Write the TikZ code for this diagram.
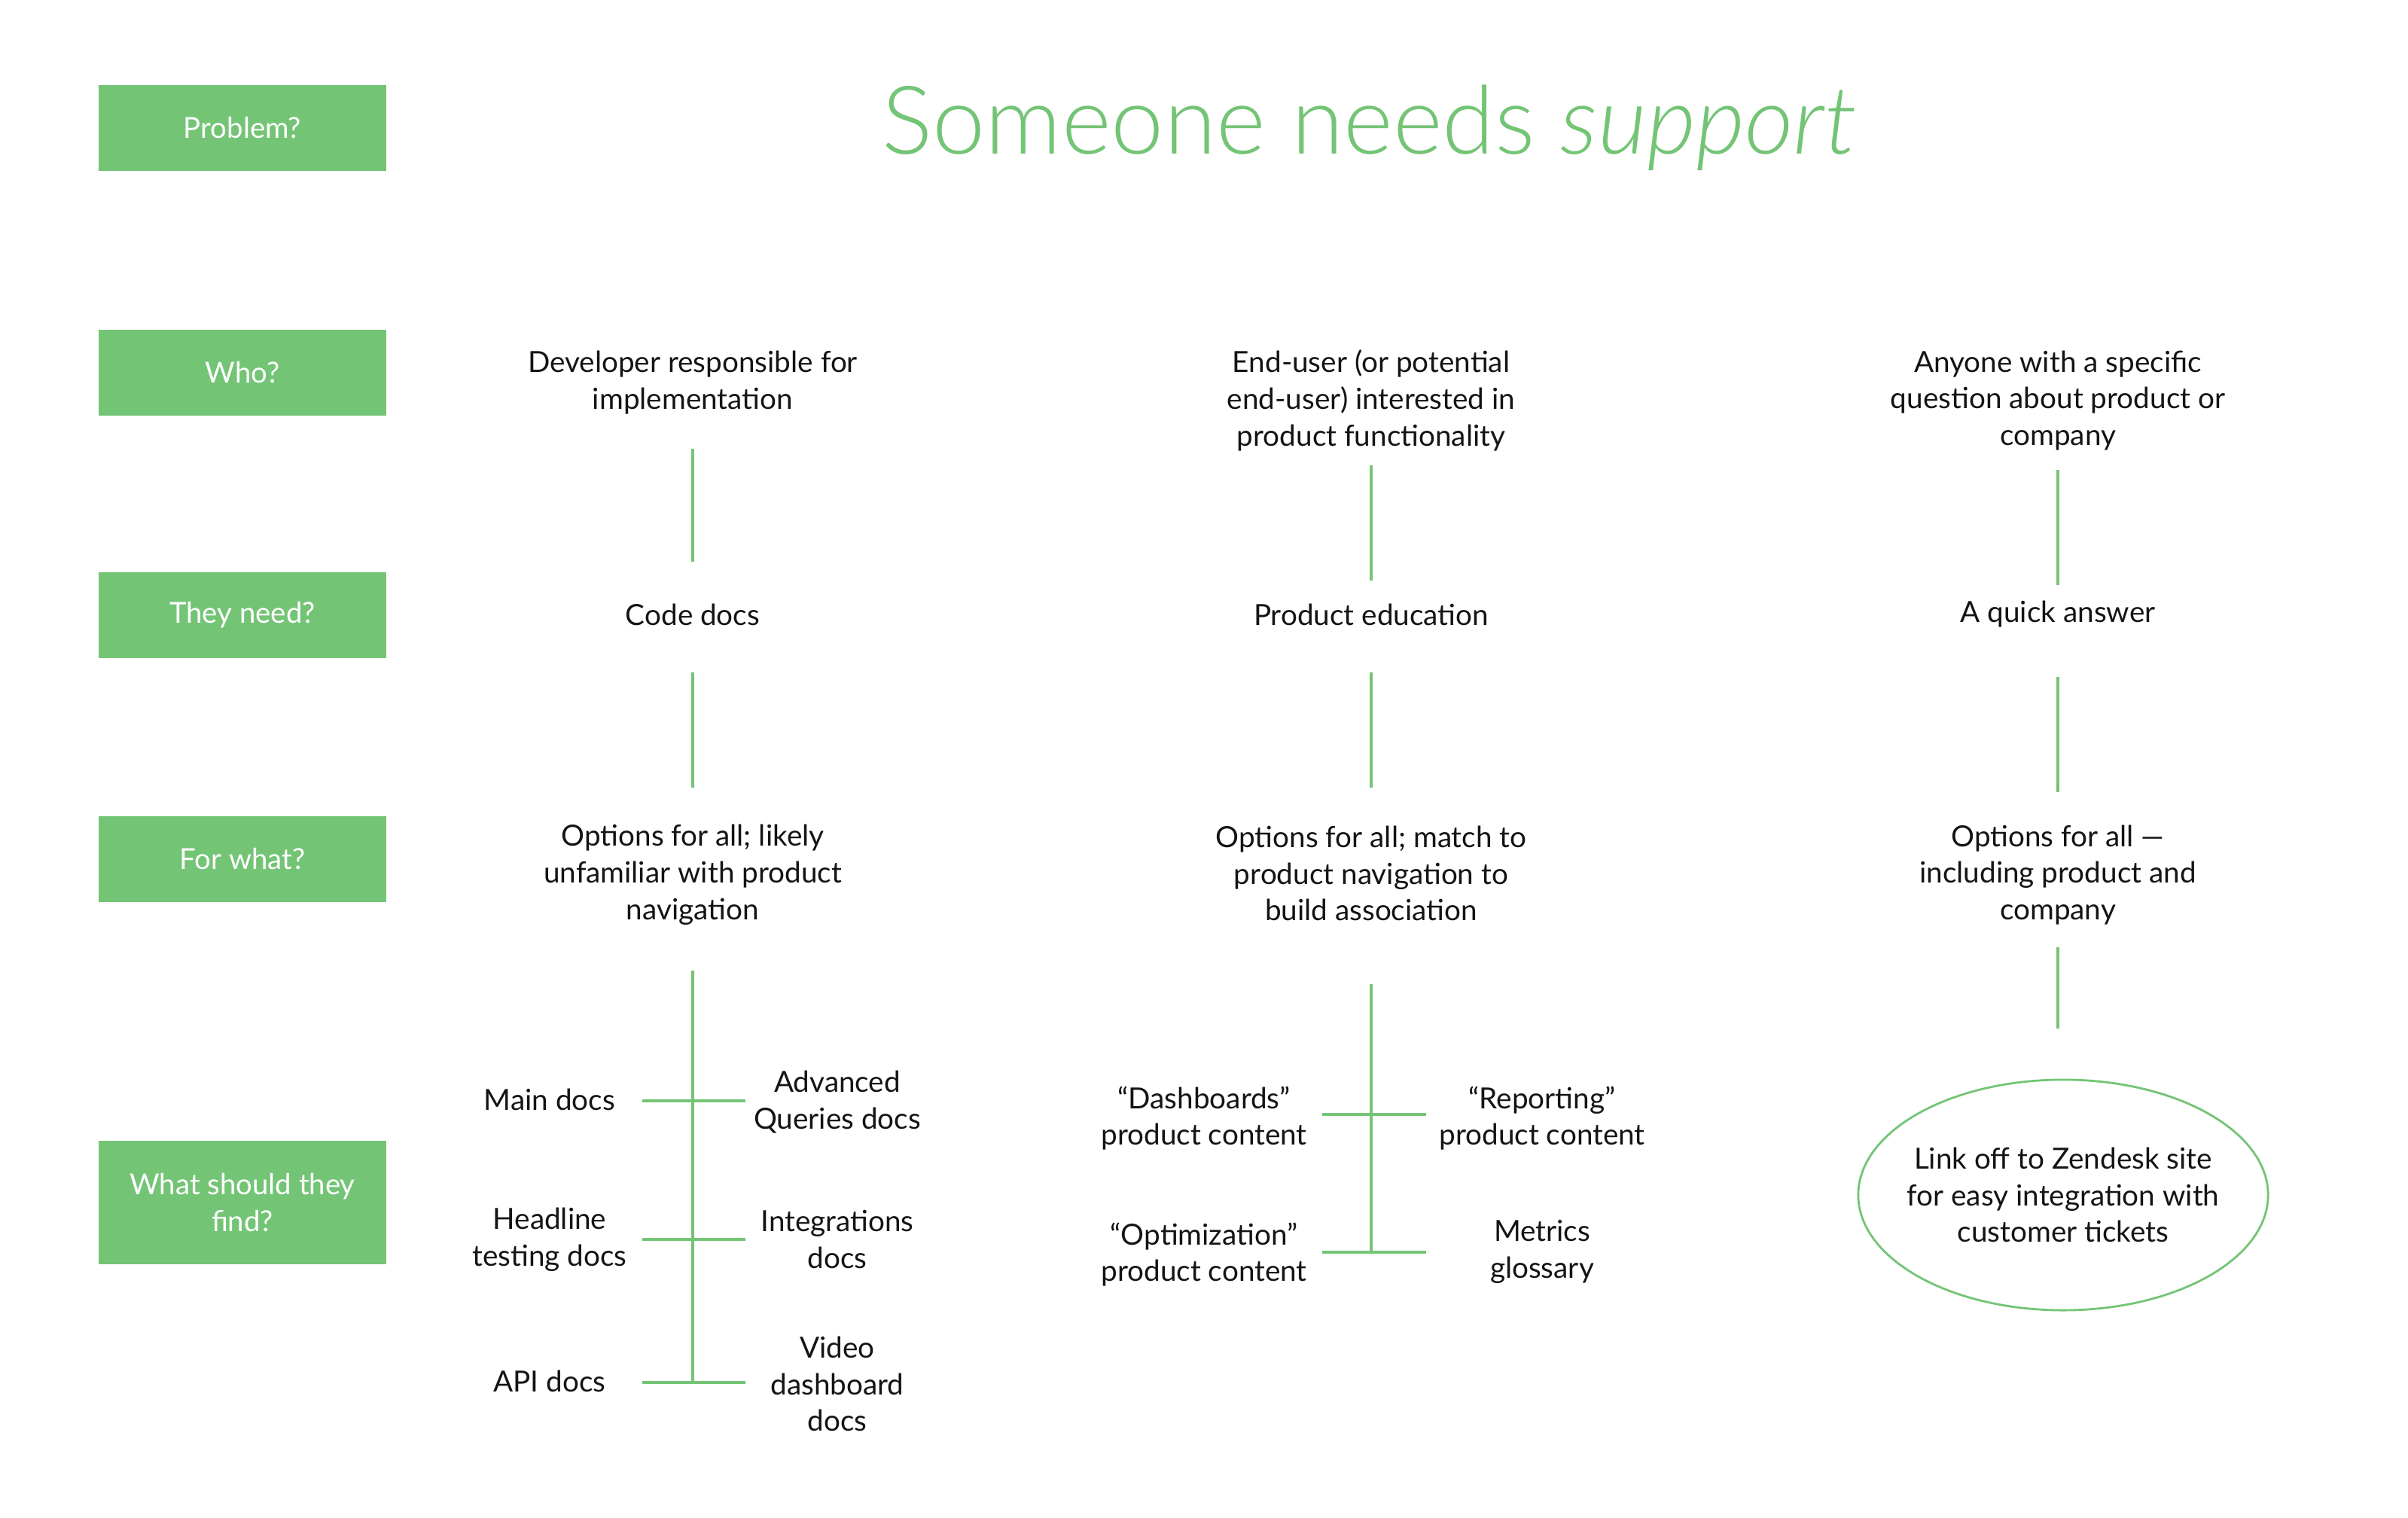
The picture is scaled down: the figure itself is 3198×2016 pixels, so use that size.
\documentclass[tikz,border=0pt]{standalone}
\usepackage{fontspec}
\setmainfont{Lato}
\newfontfamily\thinfont{Lato Light}
\usepackage{tikz}
\usetikzlibrary{
  positioning,
  shapes.geometric
}
\definecolor{LeafGreen}{RGB}{116,196,118}
\definecolor{InkBlack}{RGB}{20,20,20}
\tikzset{
  askbox/.style={fill=LeafGreen,minimum width=3.81cm,minimum height=1.14cm,inner sep=0pt,align=center,text=white,font=\fontsize{10.9}{13.9}\selectfont},
  answer/.style={align=center,inner sep=0pt,text=InkBlack,font=\fontsize{11}{13.9}\selectfont},
  outlink/.style={ellipse,draw=LeafGreen,line width=0.8pt,minimum width=5.44cm,minimum height=3.06cm,inner sep=-0.3cm,align=center,text=InkBlack,font=\fontsize{11}{13.9}\selectfont},
  headline/.style={text=LeafGreen,inner sep=0pt,font=\thinfont\fontsize{35.8}{42}\selectfont},
  branch/.style={draw=LeafGreen,line width=0.9pt}
}

\begin{document}
\begin{tikzpicture}[x=0.01cm,y=-0.01cm]
\useasboundingbox (0,0) rectangle (3198,2016);

% row questions
\node[askbox] (problem) at (322,170) {Problem?};
\node[askbox] (who) at (322,495) {Who?};
\node[askbox] (need) at (322,817) {They need?};
\node[askbox] (what) at (322,1141) {For what?};
\node[askbox, minimum height=1.63cm] (find) at (322,1597) {What should they\\find?};

\node[headline] (title) at (1819,170) {Someone needs \textit{support}};

% developer column
\node[answer] (dev) at (920,508) {Developer responsible for\\implementation};
\node[answer] (code) at (920,816) {Code docs};
\node[answer] (devwhy) at (920,1162) {Options for all; likely\\unfamiliar with product\\navigation};
\node[answer] (maindocs) at (730,1460) {Main docs};
\node[answer] (headdocs) at (730,1646) {Headline\\testing docs};
\node[answer] (apidocs) at (730,1834) {API docs};
\node[answer] (advdocs) at (1112,1464) {Advanced\\Queries docs};
\node[answer] (intdocs) at (1112,1646) {Integrations\\docs};
\node[answer] (viddocs) at (1112,1838) {Video\\dashboard\\docs};

% end-user column
\node[answer] (enduser) at (1821,532) {End-user (or potential\\end-user) interested in\\product functionality};
\node[answer] (edu) at (1821,816) {Product education};
\node[answer] (eduwhy) at (1821,1160) {Options for all; match to\\product navigation to\\build association};
\node[answer] (dash) at (1599,1485) {“Dashboards”\\product content};
\node[answer] (optim) at (1599,1666) {“Optimization”\\product content};
\node[answer] (report) at (2048,1485) {“Reporting”\\product content};
\node[answer] (metrics) at (2048,1662) {Metrics\\glossary};

% anyone column
\node[answer] (anyone) at (2733,532) {Anyone with a specific\\question about product or\\company};
\node[answer] (quick) at (2733,816) {A quick answer};
\node[answer] (quickwhy) at (2733,1162) {Options for all —\\including product and\\company};
\node[outlink] (zendesk) at (2740,1587) {Link off to Zendesk site\\for easy integration with\\customer tickets};

% line ends
\coordinate (d1) at (920,596);  \coordinate (d2) at (920,746);
\coordinate (d3) at (920,893);  \coordinate (d4) at (920,1046);
\coordinate (d5) at (920,1289); \coordinate (d6) at (920,1836);
\coordinate (dl1) at (853,1462); \coordinate (dr1) at (990,1462);
\coordinate (dl2) at (853,1646); \coordinate (dr2) at (990,1646);
\coordinate (dl3) at (853,1836); \coordinate (dr3) at (990,1836);

\coordinate (e1) at (1821,618);  \coordinate (e2) at (1821,771);
\coordinate (e3) at (1821,893);  \coordinate (e4) at (1821,1046);
\coordinate (e5) at (1821,1307); \coordinate (e6) at (1821,1663);
\coordinate (el1) at (1756,1480); \coordinate (er1) at (1894,1480);
\coordinate (el2) at (1756,1663); \coordinate (er2) at (1894,1663);

\coordinate (a1) at (2733,624);  \coordinate (a2) at (2733,777);
\coordinate (a3) at (2733,899);  \coordinate (a4) at (2733,1052);
\coordinate (a5) at (2733,1258); \coordinate (a6) at (2733,1366);

\draw[branch] (d1) -- (d2);
\draw[branch] (d3) -- (d4);
\draw[branch] (d5) -- (d6);
\draw[branch] (dl1) -- (dr1);
\draw[branch] (dl2) -- (dr2);
\draw[branch] (dl3) -- (dr3);

\draw[branch] (e1) -- (e2);
\draw[branch] (e3) -- (e4);
\draw[branch] (e5) -- (e6);
\draw[branch] (el1) -- (er1);
\draw[branch] (el2) -- (er2);

\draw[branch] (a1) -- (a2);
\draw[branch] (a3) -- (a4);
\draw[branch] (a5) -- (a6);
\end{tikzpicture}
\end{document}
